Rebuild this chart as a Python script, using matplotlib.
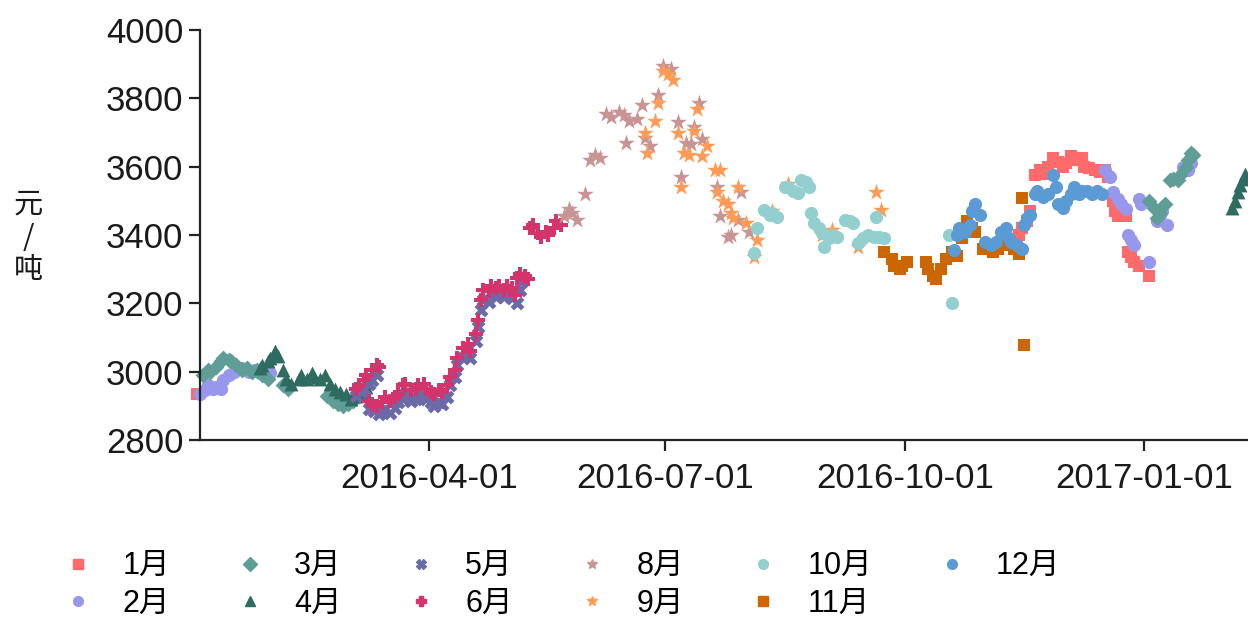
import matplotlib
matplotlib.use("Agg")
import matplotlib.pyplot as plt
from matplotlib.lines import Line2D
import pandas as pd

plt.rcParams["font.family"] = ["Liberation Sans", "Noto Sans CJK SC", "DejaVu Sans"]

# series (date, 元/吨)
jan = [("2016-01-03", 2935),
       ("2016-11-14", 3400), ("2016-11-15", 3420), ("2016-11-17", 3440), ("2016-11-18", 3470),
       ("2016-11-20", 3575), ("2016-11-22", 3590), ("2016-11-23", 3580), ("2016-11-25", 3600),
       ("2016-11-27", 3625), ("2016-11-29", 3615), ("2016-12-01", 3600), ("2016-12-02", 3610),
       ("2016-12-04", 3630), ("2016-12-06", 3620), ("2016-12-08", 3625), ("2016-12-09", 3600),
       ("2016-12-11", 3595), ("2016-12-13", 3590), ("2016-12-15", 3585), ("2016-12-17", 3590),
       ("2016-12-18", 3570), ("2016-12-20", 3500), ("2016-12-21", 3470), ("2016-12-22", 3455),
       ("2016-12-24", 3470), ("2016-12-25", 3455), ("2016-12-26", 3350), ("2016-12-27", 3335),
       ("2016-12-28", 3320), ("2016-12-30", 3310), ("2017-01-03", 3280)]
feb = [("2016-01-04", 2935), ("2016-01-06", 2945), ("2016-01-07", 2960), ("2016-01-09", 2950),
       ("2016-01-10", 2955), ("2016-01-12", 2950), ("2016-01-13", 2975), ("2016-01-15", 2990),
       ("2016-01-17", 3000), ("2016-01-18", 3005), ("2016-01-20", 3010), ("2016-01-22", 3005),
       ("2016-01-23", 3000), ("2016-01-25", 3005), ("2016-01-27", 2995), ("2016-01-29", 3000),
       ("2016-01-31", 2995),
       ("2016-12-17", 3590), ("2016-12-19", 3570), ("2016-12-20", 3525), ("2016-12-22", 3505),
       ("2016-12-23", 3490), ("2016-12-25", 3475), ("2016-12-26", 3400), ("2016-12-27", 3385),
       ("2016-12-28", 3370), ("2016-12-30", 3505), ("2016-12-31", 3490), ("2017-01-03", 3320),
       ("2017-01-06", 3440), ("2017-01-07", 3460), ("2017-01-08", 3470), ("2017-01-10", 3430),
       ("2017-01-16", 3600), ("2017-01-18", 3590), ("2017-01-19", 3610)]
mar = [("2016-01-05", 2990), ("2016-01-07", 3005), ("2016-01-08", 3000), ("2016-01-10", 3015),
       ("2016-01-12", 3030), ("2016-01-13", 3040), ("2016-01-15", 3035), ("2016-01-16", 3030),
       ("2016-01-18", 3020), ("2016-01-20", 3005), ("2016-01-22", 3010), ("2016-01-24", 3000),
       ("2016-01-26", 3005), ("2016-01-28", 2990), ("2016-01-30", 2980), ("2016-02-05", 2960),
       ("2016-02-07", 2950), ("2016-02-22", 2930), ("2016-02-24", 2915), ("2016-02-26", 2905),
       ("2016-02-28", 2900), ("2016-03-01", 2905), ("2016-03-03", 2915), ("2016-03-05", 2930),
       ("2017-01-03", 3500), ("2017-01-05", 3480), ("2017-01-06", 3450), ("2017-01-07", 3465),
       ("2017-01-09", 3490), ("2017-01-11", 3560), ("2017-01-12", 3565), ("2017-01-14", 3560),
       ("2017-01-15", 3575), ("2017-01-17", 3600), ("2017-01-18", 3620), ("2017-01-19", 3640),
       ("2017-01-20", 3635)]
apr = [("2016-01-27", 3010), ("2016-01-28", 3020), ("2016-01-30", 3030), ("2016-01-31", 3040),
       ("2016-02-02", 3060), ("2016-02-03", 3045), ("2016-02-05", 3005), ("2016-02-06", 2980),
       ("2016-02-08", 2965), ("2016-02-11", 2980), ("2016-02-12", 2990), ("2016-02-14", 2980),
       ("2016-02-16", 2995), ("2016-02-17", 2985), ("2016-02-19", 2980), ("2016-02-21", 2990),
       ("2016-02-23", 2965), ("2016-02-25", 2950), ("2016-02-27", 2940), ("2016-02-29", 2935),
       ("2016-03-02", 2920), ("2016-03-04", 2930), ("2016-03-06", 2940), ("2016-03-08", 2955),
       ("2017-02-04", 3480), ("2017-02-05", 3500), ("2017-02-06", 3525), ("2017-02-07", 3545),
       ("2017-02-08", 3565), ("2017-02-09", 3580)]
may = [("2016-03-04", 2930), ("2016-03-06", 2940), ("2016-03-07", 2950), ("2016-03-09", 2965),
       ("2016-03-10", 2975), ("2016-03-12", 2990), ("2016-03-09", 2890), ("2016-03-11", 2885),
       ("2016-03-13", 2875), ("2016-03-14", 2885), ("2016-03-15", 2890), ("2016-03-17", 2880),
       ("2016-03-19", 2895), ("2016-03-20", 2910), ("2016-03-22", 2920), ("2016-03-23", 2935),
       ("2016-03-25", 2915), ("2016-03-27", 2920), ("2016-03-28", 2935), ("2016-03-30", 2930),
       ("2016-03-31", 2920), ("2016-04-02", 2910), ("2016-04-03", 2900), ("2016-04-05", 2910),
       ("2016-04-06", 2905), ("2016-04-08", 2925), ("2016-04-09", 2960), ("2016-04-11", 2985),
       ("2016-04-12", 3020), ("2016-04-14", 3040), ("2016-04-16", 3055), ("2016-04-17", 3040),
       ("2016-04-19", 3090), ("2016-04-20", 3130), ("2016-04-21", 3180), ("2016-04-22", 3210),
       ("2016-04-24", 3205), ("2016-04-26", 3230), ("2016-04-27", 3220), ("2016-04-29", 3230),
       ("2016-04-30", 3220), ("2016-05-02", 3225), ("2016-05-03", 3215), ("2016-05-05", 3200),
       ("2016-05-06", 3240), ("2016-05-07", 3265)]
jun = [("2016-03-04", 2950), ("2016-03-05", 2960), ("2016-03-07", 2975), ("2016-03-08", 2990),
       ("2016-03-10", 3005), ("2016-03-12", 3020), ("2016-03-13", 3015),
       ("2016-03-09", 2915), ("2016-03-10", 2905), ("2016-03-12", 2900), ("2016-03-14", 2910),
       ("2016-03-15", 2925), ("2016-03-17", 2915), ("2016-03-19", 2925), ("2016-03-20", 2935),
       ("2016-03-22", 2960), ("2016-03-23", 2965), ("2016-03-25", 2945), ("2016-03-27", 2950),
       ("2016-03-28", 2960), ("2016-03-30", 2965), ("2016-03-31", 2950), ("2016-04-02", 2940),
       ("2016-04-03", 2935), ("2016-04-05", 2945), ("2016-04-06", 2940), ("2016-04-08", 2960),
       ("2016-04-09", 2985), ("2016-04-11", 3005), ("2016-04-12", 3040), ("2016-04-14", 3070),
       ("2016-04-16", 3080), ("2016-04-17", 3060), ("2016-04-19", 3110), ("2016-04-20", 3150),
       ("2016-04-21", 3210), ("2016-04-22", 3240), ("2016-04-24", 3235), ("2016-04-25", 3250),
       ("2016-04-27", 3245), ("2016-04-28", 3250), ("2016-04-30", 3240), ("2016-05-01", 3250),
       ("2016-05-03", 3245), ("2016-05-04", 3225), ("2016-05-05", 3275), ("2016-05-06", 3285),
       ("2016-05-08", 3280), ("2016-05-09", 3270),
       ("2016-05-10", 3420), ("2016-05-11", 3430), ("2016-05-13", 3405), ("2016-05-14", 3395),
       ("2016-05-16", 3410), ("2016-05-17", 3400), ("2016-05-19", 3420), ("2016-05-20", 3440),
       ("2016-05-22", 3430)]
aug = [("2016-05-23", 3455), ("2016-05-25", 3475), ("2016-05-26", 3465), ("2016-05-28", 3445),
       ("2016-05-31", 3520), ("2016-06-02", 3620), ("2016-06-04", 3635), ("2016-06-06", 3625),
       ("2016-06-08", 3755), ("2016-06-10", 3745), ("2016-06-13", 3760), ("2016-06-15", 3750),
       ("2016-06-16", 3670), ("2016-06-17", 3735), ("2016-06-20", 3740), ("2016-06-22", 3780),
       ("2016-06-23", 3685), ("2016-06-25", 3660), ("2016-06-28", 3810), ("2016-06-30", 3895),
       ("2016-07-03", 3885), ("2016-07-06", 3730), ("2016-07-07", 3570), ("2016-07-09", 3670),
       ("2016-07-11", 3665), ("2016-07-12", 3715), ("2016-07-14", 3785), ("2016-07-15", 3680),
       ("2016-07-21", 3540), ("2016-07-22", 3455), ("2016-07-25", 3395), ("2016-07-26", 3400),
       ("2016-07-29", 3445), ("2016-07-30", 3525), ("2016-08-02", 3410)]
sep = [("2016-06-23", 3700), ("2016-06-24", 3640), ("2016-06-27", 3735), ("2016-06-28", 3785),
       ("2016-06-30", 3880), ("2016-07-02", 3870), ("2016-07-04", 3855), ("2016-07-06", 3700),
       ("2016-07-07", 3540), ("2016-07-08", 3640), ("2016-07-10", 3635), ("2016-07-12", 3705),
       ("2016-07-13", 3770), ("2016-07-15", 3630), ("2016-07-17", 3660), ("2016-07-20", 3590),
       ("2016-07-21", 3525), ("2016-07-22", 3590), ("2016-07-23", 3500), ("2016-07-25", 3490),
       ("2016-07-26", 3465), ("2016-07-27", 3450), ("2016-07-29", 3540), ("2016-08-01", 3435),
       ("2016-08-04", 3336), ("2016-08-05", 3385), ("2016-08-11", 3470), ("2016-08-17", 3550),
       ("2016-08-30", 3400), ("2016-09-03", 3414), ("2016-09-13", 3365), ("2016-09-20", 3526),
       ("2016-09-22", 3473)]
oct_ = [("2016-08-04", 3347), ("2016-08-05", 3420), ("2016-08-08", 3473), ("2016-08-10", 3460),
        ("2016-08-11", 3465), ("2016-08-13", 3453), ("2016-08-16", 3540), ("2016-08-17", 3540),
        ("2016-08-19", 3530), ("2016-08-21", 3523), ("2016-08-22", 3560), ("2016-08-24", 3555),
        ("2016-08-25", 3541), ("2016-08-26", 3464), ("2016-08-27", 3435), ("2016-08-29", 3420),
        ("2016-08-30", 3406), ("2016-08-31", 3365), ("2016-09-02", 3390), ("2016-09-03", 3400),
        ("2016-09-05", 3394), ("2016-09-08", 3444), ("2016-09-10", 3440), ("2016-09-11", 3435),
        ("2016-09-13", 3376), ("2016-09-15", 3390), ("2016-09-17", 3400), ("2016-09-19", 3394),
        ("2016-09-20", 3453), ("2016-09-21", 3395), ("2016-09-23", 3390), ("2016-10-18", 3400),
        ("2016-10-19", 3200)]
nov = [("2016-09-23", 3350), ("2016-09-26", 3330), ("2016-09-27", 3310), ("2016-09-29", 3300),
       ("2016-09-30", 3310), ("2016-10-02", 3320), ("2016-10-09", 3320), ("2016-10-10", 3300),
       ("2016-10-12", 3280), ("2016-10-13", 3270), ("2016-10-15", 3300), ("2016-10-17", 3330),
       ("2016-10-19", 3350), ("2016-10-21", 3340), ("2016-10-23", 3390), ("2016-10-25", 3440),
       ("2016-10-27", 3420), ("2016-10-28", 3410), ("2016-10-31", 3360), ("2016-11-02", 3370),
       ("2016-11-04", 3350), ("2016-11-06", 3360), ("2016-11-08", 3390), ("2016-11-10", 3370),
       ("2016-11-12", 3360), ("2016-11-14", 3345), ("2016-11-15", 3508), ("2016-11-16", 3078)]
dec = [("2016-10-20", 3356), ("2016-10-21", 3400), ("2016-10-22", 3420), ("2016-10-24", 3410),
       ("2016-10-26", 3430), ("2016-10-27", 3470), ("2016-10-28", 3490), ("2016-10-30", 3460),
       ("2016-11-01", 3380), ("2016-11-03", 3370), ("2016-11-05", 3380), ("2016-11-07", 3410),
       ("2016-11-09", 3420), ("2016-11-10", 3390), ("2016-11-11", 3380), ("2016-11-13", 3370),
       ("2016-11-15", 3360), ("2016-11-16", 3430), ("2016-11-17", 3450), ("2016-11-18", 3460),
       ("2016-11-20", 3520), ("2016-11-21", 3530), ("2016-11-23", 3510), ("2016-11-25", 3520),
       ("2016-11-27", 3575), ("2016-11-28", 3540), ("2016-11-29", 3490), ("2016-12-01", 3480),
       ("2016-12-02", 3500), ("2016-12-04", 3520), ("2016-12-05", 3540), ("2016-12-07", 3520),
       ("2016-12-08", 3530), ("2016-12-10", 3530), ("2016-12-12", 3520), ("2016-12-14", 3530),
       ("2016-12-16", 3520)]

labels = ["1月", "2月", "3月", "4月", "5月", "6月", "8月", "9月", "10月", "11月", "12月"]
series = [jan, feb, mar, apr, may, jun, aug, sep, oct_, nov, dec]
colors = ["#ff6b6b", "#9797ec", "#5f9e96", "#2f6b60", "#6a6aa6", "#d5336b",
          "#c99494", "#ff9b55", "#92cfce", "#cc6600", "#5b9bd5"]
markers = ["s", "o", "D", "^", "X", "P", "*", "*", "o", "s", "o"]
sizes = [80, 90, 65, 100, 100, 100, 160, 160, 90, 80, 90]

x_ticks = ["2016-04-01", "2016-07-01", "2016-10-01", "2017-01-01"]
y_ticks = [2800, 3000, 3200, 3400, 3600, 3800, 4000]

W, H = 1248, 619
fig = plt.figure(figsize=(W / 100, H / 100), dpi=100)
ax = fig.add_axes([200 / W, 1 - 440 / H, 1048 / W, 410 / H])

for lab, pts, c, m, s in zip(labels, series, colors, markers, sizes):
    d = pd.to_datetime([p[0] for p in pts])
    v = [p[1] for p in pts]
    ax.scatter(d, v, s=s, c=c, marker=m, linewidths=0, clip_on=False, label=lab)

ax.set_xlim(pd.Timestamp("2016-01-04"), pd.Timestamp("2017-02-10"))
ax.set_ylim(2800, 4000)
ax.set_yticks(y_ticks)
ax.set_xticks(pd.to_datetime(x_ticks))
ax.set_xticklabels(x_ticks)

for side in ["top", "right"]:
    ax.spines[side].set_visible(False)
for side in ["left", "bottom"]:
    ax.spines[side].set_color("#222222")
    ax.spines[side].set_linewidth(1.6)
ax.tick_params(axis="both", length=8, width=1.6, color="#222222",
               labelsize=25, labelcolor="#1a1a1a")
ax.tick_params(axis="y", pad=4)
ax.tick_params(axis="x", pad=8)

# stacked y label
for ch, yy in zip(["元", "/", "吨"], [205, 238, 270]):
    fig.text(28 / W, 1 - yy / H, ch, ha="center", va="center", fontsize=21,
             color="#1a1a1a", family=["Noto Sans CJK SC", "DejaVu Sans"])

handles = [Line2D([], [], ls="none", marker=m, color=c, markersize=7)
           for m, c in zip(markers, colors)]
fig.legend(handles, labels, loc="upper left", bbox_to_anchor=(54 / W, 1 - 536 / H),
           ncol=6, frameon=False, fontsize=22, handlelength=0.6, handletextpad=1.15,
           columnspacing=2.3, labelspacing=0.25, borderpad=0)

fig.savefig("out.png", dpi=100)
